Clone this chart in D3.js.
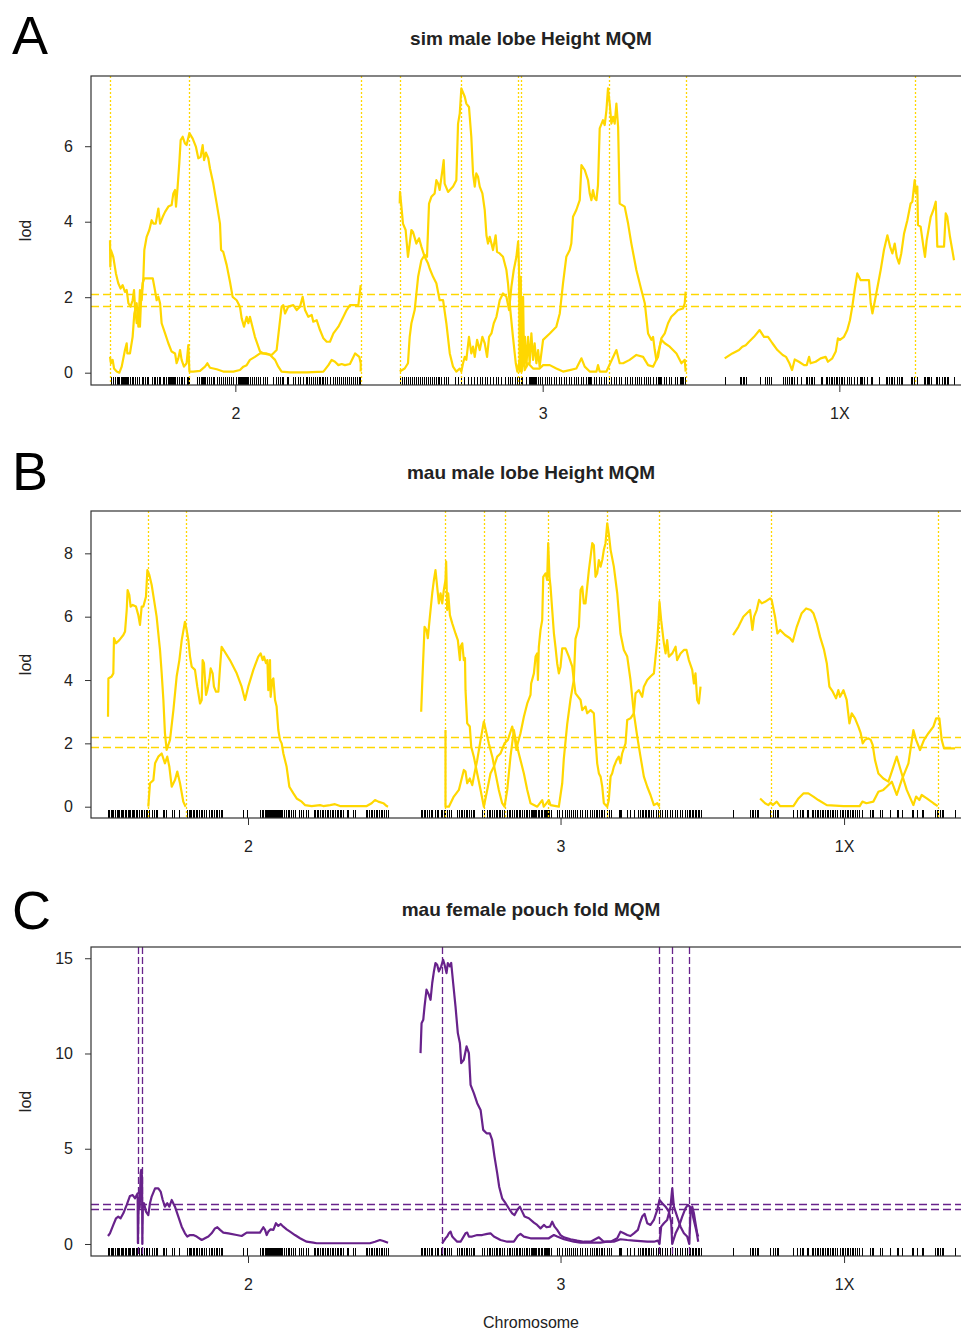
<!DOCTYPE html>
<html>
<head>
<meta charset="utf-8">
<script src="https://cdn.jsdelivr.net/npm/d3@7"></script>
<style>
body{margin:0;background:#fff}
text{font-family:"Liberation Sans",Arial,sans-serif;fill:#222}
</style>
</head>
<body>
<svg id="chart" width="961" height="1333"></svg>
<script>
var chrNames = ["2", "3", "1X"];
var chrGap = 25;
var simChrLen = [160.7, 183.3, 147.0];
var mauChrLen = [215.4, 215.4, 170.8];

//markers (cM)
var simMarkers2 = [0.4,1.7,3.2,4.3,5.1,6.0,6.8,7.5,8.1,8.8,9.4,10.0,10.7,11.5,12.8,13.9,15.0,16.0,17.1,18.8,20.3,21.4,22.4,23.5,24.6,26.7,28.2,29.1,29.9,31.2,32.1,33.8,34.6,35.9,37.2,37.8,38.5,39.1,39.7,40.4,41.0,41.7,42.7,44.0,45.3,46.2,47.4,49.1,50.2,50.9,55.6,57.3,58.1,58.8,59.4,60.0,60.9,62.0,63.2,64.5,65.8,66.7,68.4,70.1,70.9,72.2,73.7,75.2,76.5,77.4,78.6,80.8,82.3,82.9,83.5,84.2,84.8,85.5,86.1,86.8,87.4,88.0,88.7,89.7,91.0,92.3,93.6,95.1,96.2,97.9,99.4,100.4,104.7,106.4,107.9,109.0,110.0,111.1,113.2,114.3,117.5,118.6,120.7,121.8,124.0,125.6,126.5,127.8,129.1,130.3,131.4,132.5,133.8,134.6,135.7,136.8,138.0,139.3,141.0,142.7,144.2,145.7,147.0,147.9,149.1,150.6,151.7,153.4,154.3,155.6,157.1,158.1,159.4,160.3];
var simMarkers3 = [0.4,1.7,3.0,4.3,5.6,6.8,8.1,9.4,10.7,12.0,13.2,14.5,15.8,17.1,18.4,19.7,20.9,22.2,23.5,24.6,25.0,25.4,26.7,28.2,29.9,31.0,35.3,37.4,39.5,41.0,43.8,45.9,47.4,49.6,51.3,53.0,54.5,56.2,57.7,59.8,61.5,63.0,65.2,67.3,69.4,70.9,72.2,73.7,75.2,76.5,77.6,78.6,81.2,82.9,83.5,84.2,84.8,85.5,86.1,86.8,87.6,88.7,90.2,91.5,92.9,94.4,95.7,97.2,98.7,100.4,102.1,103.6,105.1,106.8,108.5,110.0,111.5,112.8,114.3,116.5,117.5,119.7,120.9,121.6,122.2,122.9,124.4,126.1,127.8,129.3,130.8,132.5,134.0,135.7,137.2,138.9,140.6,142.1,144.2,145.7,147.4,149.1,150.9,152.1,153.4,154.9,156.4,157.7,159.2,160.7,162.4,164.1,165.6,166.2,166.9,167.7,169.2,171.0,172.6,174.1,176.3,177.8,179.5,180.1,180.8,181.6,182.7];
var simMarkersX = [0,9.8,10.7,11.5,12.4,13.5,22.4,25.6,26.9,28.4,29.5,37.6,38.5,40.2,41.2,42.3,43.4,44.4,46.6,48.7,51.9,53.0,54.1,55.1,56.2,57.3,61.5,62.6,64.7,65.8,66.9,67.9,69.0,70.1,71.2,72.2,73.3,74.4,75.4,76.5,78.2,79.7,80.8,82.9,85.0,86.8,87.6,88.2,89.3,91.5,93.6,94.7,98.9,103.2,104.3,105.3,106.4,107.5,108.5,110.7,111.8,112.8,113.9,119.2,120.3,121.4,123.1,123.5,127.8,128.6,129.5,130.3,131.2,132.1,135.3,136.3,137.4,139.5,140.6,141.5,142.3,143.2,147.0];
var mauMarkers2 = [0,1.0,2.1,3.3,4.1,5.4,6.7,7.5,8.6,9.8,10.9,11.7,12.8,13.9,15.1,15.9,17.0,18.2,19.4,20.3,21.5,22.6,23.8,25.1,26.3,27.4,29.0,30.3,31.7,33.6,35.2,36.6,38.0,42.1,43.2,44.9,49.2,50.5,54.4,60.8,62.0,63.0,64.1,65.1,66.2,67.4,68.7,70.0,71.3,72.6,73.8,75.0,77.7,79.0,80.2,81.5,82.8,84.1,85.3,86.6,87.8,103.6,106.9,117.0,118.3,119.6,120.8,121.6,122.3,123.1,124.0,124.6,125.4,126.2,126.9,127.7,128.5,129.3,130.0,130.8,131.6,132.3,133.1,134.1,135.4,136.8,138.1,139.5,140.6,142.1,144.1,146.7,148.2,150.3,152.1,154.1,158.5,159.5,160.6,161.8,163.1,164.5,165.6,167.0,168.2,169.5,171.0,172.0,173.3,174.5,175.8,177.0,178.3,179.6,181.0,183.6,184.9,188.7,190.0,198.2,199.5,200.8,202.0,203.3,204.6,205.9,207.2,208.5,209.7,211.0,212.3,213.6,215.4];
var mauMarkers3 = [0,0.8,1.5,2.3,3.1,3.8,4.6,6.2,7.7,9.0,11.5,12.3,13.3,15.4,16.7,17.9,19.2,20.5,21.8,23.1,28.2,29.5,30.8,32.1,33.3,34.6,35.9,37.2,38.5,40.0,41.5,47.4,48.7,50.8,52.6,53.8,55.1,56.4,57.7,59.0,60.3,61.5,62.8,64.1,66.2,67.9,69.2,70.5,71.8,73.1,74.4,75.6,76.9,78.2,79.5,80.8,82.1,83.3,84.6,85.4,86.2,87.0,87.7,88.5,89.2,90.0,90.8,91.5,92.3,93.1,93.8,94.6,95.4,96.2,96.9,97.7,98.5,99.2,100.6,104.6,106.4,109.2,110.8,112.3,114.1,115.4,117.4,119.2,120.5,122.6,124.4,126.2,128.2,130.3,132.1,133.3,134.6,135.9,137.2,138.5,139.7,141.5,143.6,144.9,146.7,152.6,153.6,154.5,159.0,161.5,164.1,167.2,169.2,170.5,171.5,172.6,173.6,174.6,175.4,177.4,179.0,180.8,182.6,184.1,185.9,187.7,189.7,191.8,193.6,195.4,197.4,199.5,201.3,203.1,205.1,206.2,207.4,208.5,209.5,210.8,212.0,213.1,214.4,215.4];
var mauMarkersX = [0,13.1,14.4,15.6,16.9,18.2,19.5,28.5,30.5,32.3,33.6,34.9,46.4,49.0,51.5,52.8,54.1,56.7,57.9,60.5,61.8,63.1,64.4,65.6,66.9,68.2,69.5,70.8,72.1,73.3,74.6,75.9,77.2,78.5,79.7,82.3,83.6,84.9,86.2,87.4,88.7,90.0,91.3,92.6,93.8,95.1,97.2,99.0,105.4,106.7,108.0,113.1,114.4,120.8,125.9,127.2,129.7,137.4,138.7,141.3,145.1,146.4,155.4,156.7,157.9,159.2,160.5,161.8,170.8];

//A: sim male lobe Height (cM, lod)
var simLobe2a = [[0,0.42],[0.6,0.25],[1.7,0.34],[2.6,0.11],[4.3,0.03],[6.0,0],[7.5,0.16],[9.6,0.60],[10.7,0.78],[11.1,0.51],[12.8,0.51],[14.5,0.95],[15.6,1.57],[17.1,1.84],[18.2,1.22],[19.2,2.19],[20.3,1.92],[21.4,2.54],[22.0,3.25],[23.5,3.60],[25.2,3.78],[26.7,4.04],[27.8,3.95],[29.3,3.95],[31.0,4.35],[32.1,3.95],[33.8,4.13],[35.3,4.26],[37.4,4.40],[39.5,4.44],[40.6,4.75],[41.7,4.84],[42.3,4.40],[43.2,4.84],[44.4,5.54],[45.3,6.16],[46.6,6.25],[48.1,6.07],[49.1,6.03],[50.9,6.35],[53.0,6.20],[55.1,5.98],[56.6,5.68],[58.1,5.72],[59.4,6.03],[60.3,5.63],[61.5,5.83],[63.0,5.68],[64.1,5.41],[66.2,5.01],[68.4,4.48],[70.5,3.95],[71.2,3.25],[72.6,3.20],[74.8,2.85],[76.9,2.41],[78.6,2.01],[81.2,1.92],[83.3,1.75],[84.4,1.44],[85.9,1.22],[87.6,1.48],[88.7,1.31],[89.7,1.48],[92.9,0.95],[96.2,0.56],[98.3,0.51],[102.6,0.47],[105.8,0.34],[107.9,0.16],[110.0,0.03],[115.4,0.01],[126.1,0.01],[136.8,0.03],[140.0,0.20],[142.1,0.34],[144.2,0.29],[146.4,0.20],[148.5,0.23],[150.6,0.20],[153.8,0.23],[157.1,0.51],[159.8,0.42],[160.7,0.25],[160.7,0.03]];
var simLobe2b = [[0,3.51],[0.2,2.81],[0.6,3.25],[2.1,3.07],[3.8,2.63],[5.3,2.37],[6.8,2.23],[8.1,2.32],[9.6,2.14],[10.7,2.19],[11.8,1.84],[13.2,1.75],[14.5,1.92],[15.4,2.19],[16.0,1.75],[17.1,1.31],[18.2,1.48],[19.2,1.22],[19.9,1.92],[20.9,2.37],[22.0,2.50],[27.4,2.50],[28.8,2.19],[29.9,1.92],[31.0,2.01],[32.1,1.84],[33.1,1.31],[35.3,1.04],[37.4,0.78],[39.5,0.56],[41.7,0.51],[42.7,0.25],[43.8,0.38],[44.9,0.60],[45.9,0.34],[47.4,0.16],[49.1,0.25],[50.2,0.73],[50.9,0.03],[53.4,0.03],[57.7,0.05],[60.9,0.16],[62.4,0.25],[64.1,0.13],[68.4,0.09],[72.6,0.03],[79.1,0.03],[83.3,0.07],[85.5,0.16],[87.6,0.20],[89.7,0.34],[92.9,0.42],[96.2,0.51],[100.4,0.51],[103.6,0.47],[106.8,0.60],[110.0,1.75],[111.1,1.79],[112.2,1.57],[114.3,1.75],[117.5,1.79],[119.7,1.66],[121.8,1.75],[123.5,2.01],[125.0,1.66],[127.1,1.48],[129.3,1.53],[130.3,1.35],[132.5,1.39],[134.6,1.13],[136.8,0.91],[138.9,0.82],[141.0,0.82],[143.2,1.04],[146.4,1.22],[149.6,1.48],[151.7,1.66],[153.8,1.79],[159.2,1.79],[160.7,2.32]];
var simLobe3a = [[0,4.48],[0.2,4.79],[1.1,4.40],[2.1,3.95],[3.8,3.78],[5.3,3.07],[6.4,3.42],[7.5,3.78],[8.5,3.73],[10.7,3.42],[12.4,3.56],[13.9,3.34],[16.0,3.07],[18.2,2.89],[19.2,2.76],[21.4,2.54],[23.5,2.37],[25.6,1.92],[27.8,1.92],[29.9,1.31],[32.1,0.51],[34.2,0.16],[36.3,0.03],[38.5,0.11],[39.5,0.03],[40.6,0.25],[41.7,0.42],[42.7,0.34],[44.4,0.95],[45.9,0.51],[47.0,0.69],[48.1,0.42],[49.6,0.87],[51.3,0.60],[53.0,0.95],[54.5,0.78],[56.0,0.42],[57.3,0.95],[58.8,1.04],[60.3,1.31],[62.0,1.48],[64.1,1.92],[66.2,2.10],[68.4,2.01],[70.1,1.66],[71.6,2.28],[73.1,2.72],[74.8,3.07],[75.9,3.47],[76.5,2.72],[76.9,0.03],[77.6,2.54],[78.2,0.03],[79.1,2.01],[79.7,0.25],[80.3,0.95],[81.2,0.16],[82.3,0.95],[83.3,0.25],[84.4,1.04],[85.5,0.34],[86.5,0.78],[87.6,0.25],[88.7,0.60],[89.7,0.16],[91.9,0.87],[96.2,1.04],[100.4,1.22],[102.6,1.57],[104.7,2.37],[106.8,3.07],[109.0,3.25],[110.0,3.42],[111.1,4.13],[113.2,4.31],[115.4,4.57],[116.5,5.50],[118.6,5.37],[120.7,5.10],[121.8,4.75],[122.9,4.57],[123.9,4.84],[125.0,4.62],[126.1,4.57],[127.1,4.97],[128.2,6.47],[130.3,6.69],[131.4,6.56],[132.5,6.95],[133.5,7.53],[134.6,7.13],[135.7,6.60],[136.8,6.78],[137.8,6.60],[138.9,7.13],[140.0,6.51],[141.0,4.48],[144.2,4.40],[146.4,3.95],[148.5,3.42],[151.7,2.72],[154.9,2.19],[157.1,1.84],[159.2,1.04],[161.3,0.87],[162.4,0.95],[163.5,0.60],[164.5,0.34],[165.6,0.42],[166.7,0.69],[167.7,0.91],[169.9,1.04],[172.0,1.31],[174.1,1.48],[176.3,1.57],[178.4,1.66],[181.6,1.70],[182.7,1.84],[183.3,2.15]];
var simLobe3b = [[0,0.03],[3.2,0.11],[5.3,0.25],[6.4,0.95],[7.5,1.31],[9.6,1.66],[11.8,2.54],[13.9,2.98],[16.0,3.12],[17.5,3.07],[18.8,4.48],[20.3,4.66],[22.4,4.75],[23.5,5.10],[24.6,5.01],[25.6,4.84],[27.4,5.37],[28.2,5.63],[28.8,5.01],[31.0,4.79],[34.2,4.93],[36.3,5.10],[37.4,6.60],[38.5,6.87],[39.5,7.53],[41.7,7.31],[42.7,7.13],[44.4,7.04],[45.9,6.25],[47.0,5.28],[48.1,4.93],[49.1,5.28],[50.2,5.19],[51.3,4.93],[53.0,4.75],[54.5,4.31],[55.6,3.64],[56.6,3.42],[57.7,3.60],[58.8,3.42],[59.8,3.25],[61.5,3.64],[62.4,3.20],[64.1,3.16],[66.2,3.07],[68.4,2.72],[69.4,2.37],[70.9,1.66],[72.6,0.95],[74.4,0.25],[75.4,0.03],[76.9,0.34],[78.0,0.03],[79.1,0.42],[80.1,0.07],[82.3,0.25],[85.5,0.11],[89.7,0.11],[91.9,0.20],[96.2,0.20],[100.4,0.11],[104.7,0.03],[109.0,0.07],[113.2,0.11],[116.5,0.38],[118.6,0.16],[121.8,0.03],[126.1,0.03],[127.1,0.20],[128.2,0.03],[132.5,0.03],[138.9,0.60],[141.0,0.25],[143.2,0.25],[147.4,0.34],[151.7,0.47],[156.0,0.42],[159.2,0.20],[162.4,0.16],[164.5,0.34],[167.7,0.87],[169.9,0.78],[173.1,0.69],[177.4,0.51],[180.6,0.25],[182.7,0.34],[183.3,0.03]];
var simLobeXa = [[0,0.38],[4.9,0.51],[9.2,0.60],[11.3,0.69],[13.5,0.73],[15.6,0.82],[18.8,0.95],[22.4,1.13],[25.2,0.95],[27.8,0.95],[30.6,0.78],[33.8,0.60],[37.2,0.47],[39.3,0.42],[41.5,0.25],[43.2,0.07],[44.9,0.35],[47.6,0.29],[50.9,0.20],[52.6,0.20],[54.1,0.42],[55.1,0.25],[58.3,0.29],[61.5,0.38],[64.7,0.42],[66.2,0.29],[69.0,0.38],[71.2,0.56],[72.6,0.91],[73.9,0.87],[76.5,0.95],[78.6,1.13],[80.3,1.39],[81.8,1.75],[83.3,2.19],[85.0,2.63],[87.2,2.45],[88.2,2.45],[92.5,2.45],[93.6,1.84],[94.7,1.57],[96.8,2.01],[100.0,2.72],[102.1,3.25],[104.3,3.64],[106.0,3.34],[107.5,3.16],[109.0,3.42],[110.3,3.07],[111.8,2.89],[113.2,3.16],[115.0,3.69],[117.1,4.04],[119.2,4.48],[120.3,4.53],[121.8,5.10],[122.6,4.75],[123.5,4.93],[123.9,3.91],[125.6,3.87],[127.4,3.34],[128.4,3.07],[129.5,3.51],[131.0,3.87],[132.1,4.13],[133.8,4.31],[135.3,4.53],[136.3,3.34],[138.5,3.34],[140.6,3.34],[141.7,4.22],[142.7,4.13],[144.4,3.60],[145.9,3.25],[147.0,2.98]];
var simLobeCof2 = [0, 50.9, 160.7];
var simLobeCof3 = [0, 39.5, 76.0, 77.8, 134.0, 183.3];
var simLobeCofX = [122.0];
var simLobeThr = [2.08, 1.78];
var simLobeTicks = [0, 2, 4, 6];

//B: mau male lobe Height
var mauLobe2a = [[0,2.84],[0.3,4.05],[2.8,4.11],[4.1,4.21],[4.6,5.32],[6.2,5.16],[8.7,5.26],[11.8,5.42],[13.1,5.53],[14.4,6.21],[15.1,6.84],[16.4,6.68],[17.4,6.32],[19.0,6.37],[21.5,6.32],[23.3,6.05],[24.6,5.74],[25.9,6.32],[27.2,6.32],[29.2,6.63],[30.3,7.47],[31.8,7.32],[33.6,7.00],[35.4,6.53],[37.4,6.00],[38.7,5.47],[40.0,4.95],[41.3,4.21],[42.6,3.37],[43.8,2.32],[45.1,1.79],[47.7,2.11],[50.3,3.05],[52.8,4.11],[54.9,4.63],[56.7,5.26],[59.2,5.84],[60.5,5.58],[61.8,5.26],[63.1,4.74],[64.4,4.42],[66.9,4.32],[68.7,3.79],[70.8,3.26],[72.1,3.37],[72.8,4.63],[73.8,4.53],[75.4,3.53],[76.4,3.68],[77.9,4.00],[79.0,4.37],[80.5,4.21],[81.5,3.79],[83.1,3.63],[84.9,3.63],[86.2,4.42],[87.4,5.05],[93.8,4.63],[99.0,4.21],[102.8,3.79],[105.4,3.37],[107.9,3.79],[111.8,4.32],[115.6,4.74],[117.4,4.84],[119.0,4.63],[120.0,4.74],[121.5,4.53],[122.6,4.63],[123.3,3.68],[124.6,4.63],[125.1,3.47],[126.4,4.00],[127.2,4.05],[128.5,3.37],[129.7,3.16],[131.0,2.42],[132.3,2.11],[133.6,2.00],[134.9,1.68],[137.4,1.26],[139.5,0.63],[142.6,0.42],[145.1,0.26],[149.0,0.16],[151.5,0.05],[156.7,0.02],[163.1,0.05],[165.6,0.02],[170.8,0.05],[174.6,0.08],[178.5,0.02],[199.0,0.02],[202.8,0.11],[205.4,0.21],[207.9,0.16],[211.8,0.11],[214.4,0.02],[215.4,0]];
var mauLobe2b = [[31.0,0],[32.3,0.74],[34.9,0.84],[36.2,1.37],[38.7,1.58],[41.3,1.68],[43.8,1.37],[45.6,1.58],[47.2,1.26],[49.0,0.63],[51.5,0.84],[53.3,1.11],[55.4,0.74],[57.9,0.16],[59.7,0]];
var mauLobe3a = [[0.5,3.00],[1.3,3.89],[3.1,5.68],[4.6,5.58],[5.6,5.32],[7.2,6.00],[9.0,6.74],[10.3,7.16],[11.5,7.47],[12.8,6.95],[14.1,6.42],[15.4,6.74],[16.7,6.42],[17.9,6.84],[19.2,7.16],[19.7,7.74],[20.5,6.21],[21.3,6.74],[22.6,6.05],[24.4,5.79],[26.9,5.47],[28.7,5.26],[30.3,4.63],[30.8,5.05],[32.1,5.16],[33.3,4.63],[34.2,4.70],[34.6,3.68],[35.9,2.63],[37.9,2.53],[39.0,1.89],[41.0,1.58],[43.6,1.05],[46.2,0.53],[48.7,0],[51.3,0.53],[53.8,1.05],[56.4,1.26],[59.0,1.58],[61.5,1.68],[64.6,2.00],[67.2,2.11],[70.5,2.53],[72.3,2.21],[73.8,1.79],[74.8,2.00],[76.9,2.32],[79.5,2.84],[82.1,3.26],[84.6,3.53],[85.1,3.89],[87.2,4.21],[88.5,4.74],[89.7,4.84],[90.3,4.00],[91.0,5.05],[92.3,5.58],[93.6,5.89],[94.4,7.26],[96.2,7.37],[97.4,7.16],[98.2,8.32],[99.2,7.26],[100.0,6.95],[101.3,6.21],[102.6,5.47],[103.8,5.05],[105.1,4.53],[106.4,4.21],[107.7,4.42],[109.0,5.00],[111.5,5.00],[114.1,4.74],[116.7,4.42],[117.9,4.00],[119.2,3.58],[123.1,3.37],[124.4,3.05],[126.9,3.16],[128.2,2.95],[130.8,3.05],[133.3,2.95],[134.6,2.11],[135.9,1.37],[137.2,1.05],[138.5,0.95],[139.8,0.63],[141.0,0.11],[143.6,0],[144.8,0.20],[146.2,0.95],[147.4,1.05],[148.7,1.26],[150.8,1.47],[152.5,1.58],[153.8,1.37],[155.1,1.68],[157.7,2.00],[159.0,2.74],[161.5,2.79],[164.1,2.95],[165.4,3.58],[168.0,3.68],[170.5,3.47],[171.8,3.79],[174.4,4.00],[176.9,4.11],[179.5,4.21],[182.1,5.26],[183.3,6.00],[183.8,6.47],[185.1,5.89],[187.2,5.16],[188.5,4.84],[189.7,5.26],[191.0,4.74],[193.6,4.84],[196.2,5.05],[197.4,4.63],[200.0,4.84],[202.6,4.95],[204.6,4.95],[206.4,4.63],[209.0,4.32],[210.3,3.89],[211.5,4.21],[212.8,3.37],[214.1,3.26],[215.4,3.79]];
var mauLobe3b = [[19.2,2.42],[19.2,0],[21.8,0],[25.6,0.32],[29.5,0.53],[33.3,1.16],[34.6,1.11],[35.9,0.74],[37.9,0.89],[39.8,0.68],[41.0,0.95],[43.6,1.47],[46.2,2.11],[48.7,2.69],[52.5,2.00],[55.2,1.58],[57.7,1.05],[60.2,0.53],[62.8,0.11],[64.6,0],[66.7,0.53],[69.2,1.58],[71.8,2.42],[73.1,2.11],[75.6,1.68],[79.5,1.05],[82.1,0.53],[84.6,0.11],[89.8,0],[93.6,0.21],[94.8,0],[98.7,0.21],[100.0,0.05],[106.4,0],[109.0,0.74],[110.2,1.50],[112.8,2.60],[115.4,3.40],[117.9,4.00],[119.2,5.30],[121.8,5.68],[123.1,6.84],[124.4,6.95],[125.6,6.42],[126.9,6.42],[129.5,7.47],[130.8,7.89],[132.1,8.32],[133.3,8.26],[134.6,7.26],[135.9,7.37],[137.2,7.79],[138.5,7.58],[139.8,7.79],[141.0,8.11],[142.3,8.32],[143.6,8.95],[144.8,8.63],[146.2,8.11],[148.7,7.58],[151.3,6.74],[153.8,5.47],[156.4,4.95],[159.0,4.74],[161.5,4.00],[164.1,2.95],[166.7,2.21],[169.2,1.58],[171.8,0.95],[174.4,0.63],[176.9,0.37],[179.5,0.05],[182.1,0.11],[183.8,0]];
var mauLobeXa = [[0,5.42],[4.1,5.68],[7.9,6.00],[13.1,6.21],[14.9,5.58],[16.2,6.00],[18.2,6.21],[20.0,6.53],[22.1,6.42],[24.6,6.47],[28.5,6.58],[29.7,6.53],[32.3,6.00],[34.1,5.47],[36.2,5.58],[40.0,5.42],[43.8,5.32],[45.9,5.21],[49.0,5.68],[52.8,6.11],[56.2,6.26],[59.7,6.21],[61.8,6.11],[64.4,5.79],[66.9,5.37],[70.0,4.95],[72.1,4.53],[74.1,3.79],[76.7,3.63],[79.2,3.42],[81.0,3.68],[82.3,3.47],[84.9,3.68],[87.4,3.37],[89.5,2.63],[91.3,2.95],[93.8,2.79],[96.4,2.53],[98.2,2.32],[99.7,2.00],[101.5,2.11],[104.1,2.16],[105.9,2.11],[107.4,1.95],[109.2,1.47],[111.8,1.05],[115.6,0.89],[119.5,0.79],[122.1,1.11],[125.9,1.58],[129.7,1.05],[133.6,0.53],[138.7,0.05],[140.8,0.32],[143.3,0.21],[145.1,0.37],[149.0,0.26],[154.1,0.11],[157.4,0.02]];
var mauLobeXb = [[20.8,0.26],[24.6,0.11],[27.2,0.05],[29.0,0.13],[30.5,0.05],[33.6,0.16],[36.2,0.02],[46.4,0.02],[50.3,0.26],[54.1,0.42],[57.9,0.42],[61.8,0.32],[65.6,0.21],[72.1,0.05],[84.9,0.02],[97.4,0.02],[99.5,0.16],[102.6,0.11],[107.9,0.16],[111.8,0.47],[115.6,0.53],[118.2,0.63],[122.1,0.79],[125.9,0.37],[129.7,0.84],[134.9,1.37],[138.7,2.42],[140.8,2.11],[143.8,1.79],[146.9,2.11],[150.3,2.32],[154.1,2.53],[156.2,2.79],[158.7,2.79],[160.5,2.11],[162.3,1.84],[166.4,1.84],[170.8,1.84]];
var mauLobeCof2 = [31.0, 59.7];
var mauLobeCof3 = [19.2, 48.7, 64.6, 98.2, 143.6, 183.8];
var mauLobeCofX = [29.0, 157.4];
var mauLobeThr = [2.20, 1.88];
var mauLobeTicks = [0, 2, 4, 6, 8];

//C: mau female pouch fold
var mauPouch2a = [[0,0.42],[1.5,0.56],[4.1,1.00],[6.2,1.35],[7.9,1.44],[9.7,1.35],[11.8,1.61],[14.4,2.05],[16.9,2.52],[19.0,2.57],[20.8,2.40],[22.1,2.57],[22.8,2.66],[23.0,0.05],[23.6,2.20],[24.4,1.90],[25.1,3.71],[25.6,3.89],[26.2,3.50],[26.4,0],[26.8,1.96],[27.7,2.14],[29.2,1.70],[31.0,1.52],[32.3,2.14],[33.6,2.49],[36.2,2.92],[38.7,2.92],[40.5,2.75],[42.1,2.31],[43.8,1.96],[45.6,2.14],[47.2,1.96],[49.0,2.31],[51.5,1.96],[54.1,1.44],[56.7,0.91],[59.2,0.56],[61.0,0.39],[63.1,0.47],[65.6,0.47],[68.2,0.39],[72.1,0.21],[74.6,0.30],[77.2,0.39],[79.7,0.56],[82.3,0.82],[84.1,0.88],[86.2,0.74],[88.7,0.60],[92.6,0.56],[99.0,0.47],[102.8,0.42],[106.7,0.60],[111.8,0.60],[116.9,0.60],[119.5,0.88],[120.8,0.74],[122.1,0.47],[123.3,0.65],[125.1,0.77],[127.2,0.74],[129.2,1.09],[131.0,0.95],[132.8,1.05],[134.9,0.91],[137.4,0.77],[140.0,0.65],[143.8,0.47],[147.7,0.30],[152.8,0.12],[157.9,0.07],[160.5,0.04],[191.3,0.04],[201.5,0.04],[205.4,0.12],[209.2,0.21],[211.8,0.16],[215.4,0.07]];
var mauPouch3a = [[0,10.02],[0.8,11.59],[2.1,11.77],[3.1,12.47],[4.6,13.35],[6.4,13.08],[7.7,12.82],[9.0,13.70],[10.3,14.31],[11.5,14.75],[12.8,14.66],[14.1,14.31],[15.9,14.57],[17.4,14.92],[18.5,14.66],[20.0,14.22],[21.0,14.75],[22.6,14.57],[23.6,14.75],[25.1,13.70],[26.9,12.47],[28.7,11.07],[30.3,10.54],[31.3,9.49],[33.3,9.67],[35.4,10.37],[37.2,10.02],[38.5,8.35],[41.0,7.92],[43.6,7.39],[46.2,7.04],[48.2,5.99],[50.8,5.81],[53.3,5.81],[55.1,5.46],[56.9,4.59],[59.0,3.71],[60.5,3.01],[62.8,2.40],[65.4,2.14],[67.9,1.87],[70.5,1.61],[72.3,1.52],[74.4,1.79],[76.4,1.96],[78.2,1.70],[80.0,1.44],[83.3,1.35],[87.2,1.12],[89.7,1.00],[92.3,0.82],[94.9,1.00],[96.9,0.88],[99.5,0.91],[101.3,1.17],[103.1,0.91],[105.1,0.74],[107.7,0.47],[110.3,0.35],[115.4,0.25],[120.5,0.18],[125.6,0.12],[130.8,0.12],[137.2,0.35],[141.0,0.12],[146.2,0.12],[151.3,0.30],[153.8,0.65],[156.4,0.56],[159.0,0.47],[161.5,0.42],[164.1,0.56],[167.2,0.74],[168.7,1.09],[170.5,1.44],[172.3,1.58],[174.4,1.09],[176.9,1.00],[179.5,1.26],[182.1,1.79],[183.8,2.31],[185.9,2.14],[188.5,1.96],[191.0,1.70],[192.8,1.17],[193.6,0],[196.2,0.56],[198.7,0.91],[201.3,1.44],[203.8,1.87],[205.6,2.05],[207.2,1.96],[209.0,1.61],[210.8,1.09],[212.3,0.65],[213.6,0.12]];
var mauPouch3b = [[16.7,0.04],[19.2,0.30],[20.5,0.39],[21.8,0.56],[23.1,0.65],[24.4,0.39],[25.6,0.30],[28.2,0.12],[30.8,0.12],[34.6,0.56],[35.9,0.60],[37.2,0.39],[39.7,0.39],[43.6,0.47],[47.4,0.47],[51.3,0.53],[53.8,0.56],[56.4,0.39],[59.0,0.30],[61.5,0.21],[66.7,0.12],[71.8,0.12],[74.4,0.39],[75.6,0.47],[76.9,0.53],[79.5,0.39],[84.6,0.30],[94.9,0.30],[98.7,0.30],[101.3,0.42],[102.6,0.47],[105.1,0.39],[110.3,0.25],[117.9,0.12],[123.1,0.07],[133.3,0.07],[138.5,0.07],[143.6,0.12],[148.7,0.12],[153.8,0.25],[159.0,0.21],[164.1,0.18],[174.4,0.12],[179.5,0.12],[182.6,0.18],[183.8,0],[185.1,0.91],[187.2,1.09],[189.7,1.26],[192.3,1.96],[193.6,2.92],[194.9,1.96],[197.4,1.44],[200.0,0.91],[202.6,0.56],[205.1,0.39],[206.7,0],[207.7,1.61],[209.0,1.96],[210.3,1.61],[211.5,1.09],[212.8,0.56],[213.6,0.39]];
var mauPouchCof2 = [22.8, 26.4];
var mauPouchCof3 = [16.9, 183.8, 193.6, 206.7];
var mauPouchCofX = [];
var mauPouchThr = [2.10, 1.82];
var mauPouchTicks = [0, 5, 10, 15];

var gold = "rgb(255, 215, 0)";
var purple = "rgb(104, 34, 139)";
var boxLeft = 91, boxRight = 990;

var panels = [
	{letter:"A", title:"sim male lobe Height MQM", top:76, bottom:385, yDomain:[-0.326, 7.86], xRange:[110, 954],
		chrLen:simChrLen, markers:[simMarkers2, simMarkers3, simMarkersX],
		curves:[[0, simLobe2a], [0, simLobe2b], [1, simLobe3a], [1, simLobe3b], [2, simLobeXa]],
		cof:[simLobeCof2, simLobeCof3, simLobeCofX], thr:simLobeThr, ticks:simLobeTicks,
		color:gold, cofDash:"2,2", letterY:54, titleY:45},
	{letter:"B", title:"mau male lobe Height MQM", top:511, bottom:818, yDomain:[-0.357, 9.337], xRange:[108, 955.1],
		chrLen:mauChrLen, markers:[mauMarkers2, mauMarkers3, mauMarkersX],
		curves:[[0, mauLobe2a], [0, mauLobe2b], [1, mauLobe3a], [1, mauLobe3b], [2, mauLobeXa], [2, mauLobeXb]],
		cof:[mauLobeCof2, mauLobeCof3, mauLobeCofX], thr:mauLobeThr, ticks:mauLobeTicks,
		color:gold, cofDash:"2,2", letterY:490, titleY:479},
	{letter:"C", title:"mau female pouch fold MQM", top:947, bottom:1256, yDomain:[-0.63, 15.59], xRange:[108, 955.1],
		chrLen:mauChrLen, markers:[mauMarkers2, mauMarkers3, mauMarkersX],
		curves:[[0, mauPouch2a], [1, mauPouch3a], [1, mauPouch3b]],
		cof:[mauPouchCof2, mauPouchCof3, mauPouchCofX], thr:mauPouchThr, ticks:mauPouchTicks,
		color:purple, cofDash:"7,3", letterY:929, titleY:916}
];

var svg = d3.select("#chart");
var defs = svg.append("defs");

function drawPanel(p){
	var offs = [0];
	for(var i=1; i<p.chrLen.length; i++){
		offs.push(offs[i-1] + p.chrLen[i-1] + chrGap);
	}
	var total = offs[offs.length-1] + p.chrLen[p.chrLen.length-1];
	var x = d3.scaleLinear().domain([0, total]).range(p.xRange);
	var y = d3.scaleLinear().domain(p.yDomain).range([p.bottom, p.top]);
	var g = svg.append("g");

	defs.append("clipPath").attr("id", "clip" + p.letter)
		.append("rect")
			.attr("x", boxLeft)
			.attr("y", p.top)
			.attr("width", boxRight - boxLeft)
			.attr("height", p.bottom - p.top);
	var plot = g.append("g").attr("clip-path", "url(#clip" + p.letter + ")");

	//lod curves
	p.curves.forEach(function(c){
		var line = d3.line()
			.x(function(d){ return x(offs[c[0]] + d[0]); })
			.y(function(d){ return y(d[1]); });
		plot.append("path")
			.datum(c[1])
			.attr("d", line)
			.attr("fill", "none")
			.attr("stroke", p.color)
			.attr("stroke-width", 2.2)
			.attr("stroke-linejoin", "round");
	});

	//marker rug
	p.markers.forEach(function(m, ci){
		plot.append("g").selectAll("line").data(m)
			.enter().append("line")
				.attr("x1", function(d){ return Math.round(x(offs[ci] + d)) + 0.5; })
				.attr("x2", function(d){ return Math.round(x(offs[ci] + d)) + 0.5; })
				.attr("y1", p.bottom)
				.attr("y2", p.bottom - 8)
				.attr("stroke", "#000")
				.attr("stroke-width", 1);
	});

	//cofactors
	p.cof.forEach(function(cs, ci){
		plot.append("g").selectAll("line").data(cs)
			.enter().append("line")
				.attr("x1", function(d){ return Math.round(x(offs[ci] + d)) + 0.5; })
				.attr("x2", function(d){ return Math.round(x(offs[ci] + d)) + 0.5; })
				.attr("y1", p.top)
				.attr("y2", p.bottom)
				.attr("stroke", p.color)
				.attr("stroke-width", 1.3)
				.attr("stroke-dasharray", p.cofDash);
	});

	//thresholds
	plot.append("g").selectAll("line").data(p.thr)
		.enter().append("line")
			.attr("x1", boxLeft)
			.attr("x2", boxRight)
			.attr("y1", function(d){ return Math.round(y(d)) + 0.5; })
			.attr("y2", function(d){ return Math.round(y(d)) + 0.5; })
			.attr("stroke", p.color)
			.attr("stroke-width", 1.5)
			.attr("stroke-dasharray", "8,4");

	//box
	g.append("rect")
		.attr("x", boxLeft)
		.attr("y", p.top)
		.attr("width", boxRight - boxLeft)
		.attr("height", p.bottom - p.top)
		.attr("fill", "none")
		.attr("stroke", "#333")
		.attr("stroke-width", 1.2);

	//axes
	var yAxis = g.append("g")
		.attr("transform", "translate(" + boxLeft + ",0)")
		.call(d3.axisLeft(y).tickValues(p.ticks).tickSize(6).tickPadding(12));
	var mids = p.chrLen.map(function(l, i){ return offs[i] + l / 2; });
	var xAxis = g.append("g")
		.attr("transform", "translate(0," + p.bottom + ")")
		.call(d3.axisBottom(x).tickValues(mids).tickSize(7).tickPadding(16)
			.tickFormat(function(d, i){ return chrNames[i]; }));
	[yAxis, xAxis].forEach(function(a){
		a.select(".domain").remove();
		a.selectAll(".tick line").attr("stroke", "#333");
		a.selectAll(".tick text").attr("font-size", 16).attr("font-family", "Liberation Sans, Arial, sans-serif").attr("fill", "#222");
	});

	//labels
	g.append("text")
		.text(p.title)
		.attr("x", 531)
		.attr("y", p.titleY)
		.attr("text-anchor", "middle")
		.attr("font-size", 19)
		.attr("font-weight", "bold");
	g.append("text")
		.text(p.letter)
		.attr("x", 12)
		.attr("y", p.letterY)
		.attr("font-size", 54)
		.style("fill", "#000");
	g.append("text")
		.text("lod")
		.attr("transform", "translate(31," + ((p.top + p.bottom) / 2) + ") rotate(-90)")
		.attr("text-anchor", "middle")
		.attr("font-size", 16);
}

panels.forEach(drawPanel);

svg.append("text")
	.text("Chromosome")
	.attr("x", 531)
	.attr("y", 1328)
	.attr("text-anchor", "middle")
	.attr("font-size", 16);
</script>
</body>
</html>
